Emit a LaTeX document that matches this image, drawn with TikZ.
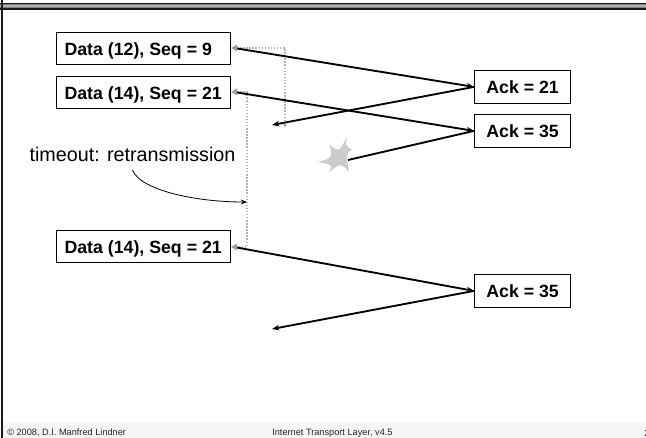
\documentclass[tikz,border=0pt]{standalone}
\usepackage{fontspec}
\setmainfont{Liberation Sans}
\usetikzlibrary{arrows.meta}
\newcommand{\pktlabel}[1]{\makebox[130.5pt][l]{\hspace{6pt}#1}}
\tikzset{
  x=0.75pt,y=-0.75pt,
  pkt/.style={draw=black,line width=0.85pt,fill=white,inner sep=0pt,font=\fontsize{13.3pt}{15pt}\selectfont\bfseries,anchor=north west,text depth=0pt,text height=10pt},
  sig/.style={line width=1.4pt,draw=black,-{Stealth[length=5.5pt,width=4.2pt]}},
  dots/.style={line width=1pt,draw=black!30,dash pattern=on 1.1pt off 1.2pt},
  foot/.style={font=\fontsize{6.9pt}{8pt}\selectfont,text=black!85,inner sep=0pt}
}
\begin{document}
\begin{tikzpicture}
\useasboundingbox (0,0) rectangle (646,438);
\fill[white] (0,0) rectangle (646,438);
\fill[black!4] (3,423) rectangle (646,438);
% frame
\fill[black!50] (0,3) rectangle (646,9);
\fill[black!30] (0,5) rectangle (646,7);
\draw[line width=0.9pt,black!90] (0,3.2) -- (646,3.2);
\draw[line width=1.1pt,black!90] (0,8.8) -- (646,8.8);
\draw[line width=1.5pt,black!90] (1.8,0) -- (1.8,438);
% boxes
\node[pkt,minimum height=24pt] (d1) at (56,32) {\pktlabel{Data (12), Seq = 9}};
\node[pkt,minimum height=24pt] (d2) at (56,76) {\pktlabel{Data (14), Seq = 21}};
\node[pkt,minimum height=24pt] (d3) at (56,230) {\pktlabel{Data (14), Seq = 21}};
\node[pkt,minimum width=72pt,minimum height=24.5pt,align=center] (a1) at (474,70) {Ack = 21};
\node[pkt,minimum width=72pt,minimum height=24.5pt,align=center] (a2) at (474,114) {Ack = 35};
\node[pkt,minimum width=72pt,minimum height=24.5pt,align=center] (a3) at (474,274) {Ack = 35};
% coordinates
\coordinate (s1) at (234,48);
\coordinate (s2) at (234,92);
\coordinate (s3) at (234,247);
\coordinate (r1) at (272,125);
\coordinate (r3) at (272,329);
\coordinate (lost) at (348,160);
\coordinate (t1) at (285,48);
\coordinate (t1b) at (285,125);
\coordinate (t2) at (247,92);
\coordinate (t2b) at (247,247);
% star
\fill[black!20] (347,137) .. controls (345,145) .. (352,150)
  .. controls (346,153) .. (349,172)
  .. controls (341,163) .. (329,172)
  .. controls (333,165) .. (318,162)
  .. controls (332,158) .. (330,145)
  .. controls (339,152) .. (347,137) -- cycle;
% dotted timers
\draw[dots] (s1) -- (t1) -- (t1b);
\draw[dots] (s2) -- (t2) -- (t2b) -- (s3);
% signals
\draw[sig] (s1) -- (a1.west);
\draw[sig] (a1.west) -- (r1);
\draw[sig] (s2) -- (a2.west);
\draw[line width=1.4pt] (a2.west) -- (lost);
\draw[sig] (s3) -- (a3.west);
\draw[sig] (a3.west) -- (r3);
% grey timer ends, on top of the signals
\fill[black!38] (t1b) circle (1.8);
\fill[black!38] (231,48) -- (237,44.5) -- (237,51.5) -- cycle;
\fill[black!38] (231,92) -- (237,88.5) -- (237,95.5) -- cycle;
\fill[black!38] (231,247) -- (237,243.5) -- (237,250.5) -- cycle;
% label
\node[inner sep=0pt,font=\fontsize{14.8pt}{17pt}\selectfont] (tl) at (132.5,154) {timeout: retransmission};
\coordinate (ts) at (132.5,170);
\coordinate (te) at (247,202);
\draw[line width=0.6pt,-{Stealth[length=4.5pt,width=3.5pt]}] (ts) .. controls (140,190) and (195,202) .. (te);
% footer
\node[foot,anchor=west] (f1) at (7,433) {© 2008, D.I. Manfred Lindner};
\node[foot,anchor=west] (f2) at (272,433) {Internet Transport Layer, v4.5};
\node[foot,anchor=west] (f3) at (644,433) {2};
\end{tikzpicture}
\end{document}
